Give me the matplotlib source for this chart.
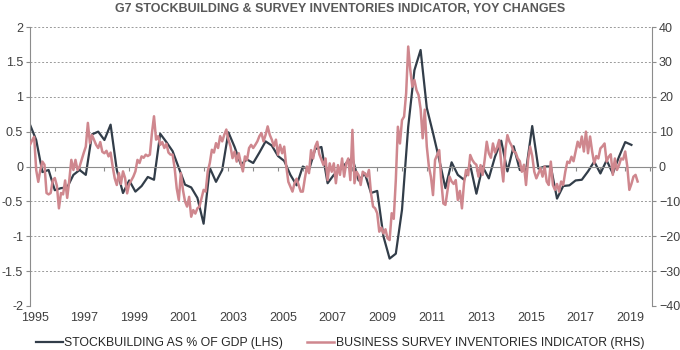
import numpy as np
import matplotlib
matplotlib.use('Agg')
import matplotlib.pyplot as plt

plt.rcParams['font.family'] = ['Liberation Sans Narrow', 'Liberation Sans', 'DejaVu Sans']

title = 'G7 STOCKBUILDING & SURVEY INVENTORIES INDICATOR, YOY CHANGES'
label_lhs = 'STOCKBUILDING AS % OF GDP (LHS)'
label_rhs = 'BUSINESS SURVEY INVENTORIES INDICATOR (RHS)'

# quarterly stockbuilding, % of GDP, 1995Q1 - 2019Q2
stockbuilding = [
    0.60, 0.38, -0.08, -0.05,    # 1995
    -0.34, -0.31, -0.30, -0.12,  # 1996
    -0.05, -0.12, 0.46, 0.50,    # 1997
    0.38, 0.60, -0.05, -0.38,    # 1998
    -0.20, -0.36, -0.28, -0.15,  # 1999
    -0.19, 0.47, 0.35, 0.22,     # 2000
    -0.02, -0.26, -0.30, -0.45,  # 2001
    -0.82, -0.02, -0.22, -0.05,  # 2002
    0.49, 0.28, 0.03, 0.10,      # 2003
    0.05, 0.20, 0.36, 0.30,      # 2004
    0.15, 0.08, -0.12, -0.27,    # 2005
    0.00, -0.05, 0.25, 0.28,     # 2006
    -0.24, -0.12, -0.05, 0.05,   # 2007
    0.12, -0.20, -0.10, -0.38,   # 2008
    -0.35, -1.00, -1.32, -1.25,  # 2009
    -0.62, 0.57, 1.38, 1.67,     # 2010
    0.84, 0.48, 0.10, -0.31,     # 2011
    0.06, -0.12, -0.19, 0.02,    # 2012
    -0.39, 0.00, -0.17, 0.14,    # 2013
    0.37, -0.07, 0.29, -0.05,    # 2014
    -0.06, 0.58, -0.03, 0.00,    # 2015
    0.00, -0.46, -0.28, -0.27,   # 2016
    -0.20, -0.19, -0.07, 0.07,   # 2017
    -0.10, 0.09, -0.10, 0.14,    # 2018
    0.35, 0.31,                  # 2019
]

# monthly survey inventories indicator, Jan 1995 - Jul 2019
survey = [
    6.2, 7.5, 8.5, -1.0, -4.4, -1.0, 1.4, 0.5, -7.6, -8.0, -7.6, -4.0,
    -3.3, -5.5, -12.0, -7.6, -8.0, -4.0, -9.0, -4.0, 1.9, -1.0, 1.9, -1.0,
    0.0, 2.0, 3.9, 5.7, 12.5, 6.7, 9.0, 7.6, 6.2, 5.3, 7.0, 4.2,
    3.8, 4.5, 2.9, 4.0, 0.0, -3.4, -5.3, -1.9, -5.0, -1.4, -3.3, -7.7,
    -5.0, -4.0, -2.9, -1.4, 1.9, 1.0, 2.9, 2.5, 3.4, 3.0, 3.4, 9.6,
    14.4, 7.7, 8.7, 6.2, 7.0, 5.3, 6.5, 4.0, 3.4, 3.4, -0.5, -6.3,
    -9.6, -1.9, -6.7, -10.0, -11.5, -8.7, -14.4, -12.5, -13.5, -12.0, -11.5, -9.1,
    -6.7, -7.2, -1.4, 1.0, 4.8, 4.0, 6.7, 5.3, 8.7, 7.2, 9.1, 10.6,
    7.7, 5.8, 2.4, 4.3, 1.4, 3.8, 1.0, -1.4, 2.9, 1.9, 5.3, 6.2,
    5.3, 6.2, 7.2, 8.7, 9.6, 7.2, 9.1, 11.5, 9.1, 7.7, 5.8, 7.7,
    3.4, 6.2, 3.8, 5.7, 0.0, -4.4, -5.8, -7.2, -4.8, -3.5, -5.3, -7.2,
    -7.2, -3.4, 0.0, -1.9, 4.7, 2.3, 5.7, 7.1, 3.5, 2.0, 0.4, 2.3,
    -3.9, 0.9, -1.5, 0.9, -4.8, 0.4, -2.4, 2.3, -2.9, 0.9, 2.3, -3.9,
    10.5, -4.8, -1.5, -2.5, -5.3, -1.5, -2.0, -2.9, -1.0, -7.7, -11.5, -12.0,
    -13.4, -18.7, -17.5, -19.2, -18.0, -20.6, -21.1, -13.4, -15.0, -3.9, 11.4, 6.6,
    13.3, 14.3, 21.0, 34.4, 27.7, 22.9, 24.8, 21.9, 20.5, 16.5, 8.1, 16.3,
    5.7, 0.0, -3.0, -8.2, 1.9, 3.3, 4.7, -4.3, -10.6, -11.0, -7.0, -2.9,
    -4.3, -5.0, -3.9, -9.6, -7.0, -12.0, -4.8, -1.0, -2.5, 3.3, 1.9, 1.0,
    0.5, -2.9, 0.4, -2.4, 1.9, 7.1, 3.8, 2.5, 6.6, 4.0, 5.5, 7.6,
    0.9, -4.3, 4.7, 9.0, 7.1, 6.0, 4.3, 4.0, 2.3, 1.5, -1.5, 0.5,
    -5.3, 1.9, 5.7, 3.0, -1.5, -3.4, -2.0, -0.5, -2.9, 0.0, -4.3, -5.3,
    1.4, -5.3, -6.7, -5.0, -7.2, -4.3, -5.3, -1.5, 1.4, 1.0, 2.8, 1.5,
    4.3, 7.1, 5.5, 8.6, 4.3, 10.0, 3.8, 8.6, 4.3, 0.9, 3.0, 2.3,
    5.2, 5.8, 6.6, 1.4, 2.8, 3.5, -2.4, 2.3, -1.0, 0.4, 2.3, 2.0,
    4.3, 0.0, -6.7, -5.0, -2.9, -2.4, -4.3,
]

year_labels = [str(y) for y in range(1995, 2020, 2)]

t_q = 1995 + np.arange(len(stockbuilding)) / 4
t_m = 1995 + np.arange(len(survey)) / 12

dark = '#323d49'
pink = '#cf878e'
axis_col = '#8c8c8c'
text_col = '#404040'

fig = plt.figure(figsize=(6.8, 3.5), dpi=100)
ax = fig.add_axes([30 / 680, 44 / 350, 622 / 680, 279 / 350])
ax2 = ax.twinx()

l1, = ax.plot(t_q, stockbuilding, color=dark, lw=1.6, label=label_lhs)
l2, = ax2.plot(t_m, survey, color=pink, lw=1.8, label=label_rhs)

ax.set_xlim(1995, 2020.08)
ax.set_ylim(-2, 2)
ax2.set_ylim(-40, 40)
ax.set_yticks(np.arange(-2, 2.01, 0.5))
ax.set_yticklabels(['-2', '-1.5', '-1', '-0.5', '0', '0.5', '1', '1.5', '2'])
ax2.set_yticks(np.arange(-40, 41, 10))

ax.grid(axis='y', color='#9a9a9a', lw=0.7, linestyle=(0, (2, 2)))
ax.set_axisbelow(True)

# horizontal axis line sits at zero, labels at the bottom
ax.spines['bottom'].set_position(('data', 0))
ax.spines['bottom'].set_color(axis_col)
ax.set_xticks(np.arange(1995, 2021, 1))
ax.tick_params(axis='x', direction='out', length=3, color=axis_col, labelbottom=False)

sec = ax.secondary_xaxis('bottom')
sec.set_xticks(np.arange(1995, 2020, 2) + 0.2, year_labels)
sec.tick_params(length=0, pad=4, labelsize=9, labelcolor=text_col)
sec.spines['bottom'].set_visible(False)

for a in (ax, ax2):
    a.spines['top'].set_visible(False)
    a.spines['left'].set_color(axis_col)
    a.spines['right'].set_color(axis_col)
    a.tick_params(axis='y', direction='out', length=3, color=axis_col,
                  labelsize=9, labelcolor=text_col, pad=2)
ax2.spines['bottom'].set_visible(False)
ax.spines['right'].set_visible(False)
ax2.spines['left'].set_visible(False)

fig.text(0.5, 1 - 9 / 350, title, ha='center', va='center', fontsize=9,
         fontweight='bold', color='#595959', family=['Liberation Sans', 'DejaVu Sans'])

fig.legend([l1, l2], [label_lhs, label_rhs], loc='center', ncol=2,
           bbox_to_anchor=(0.5, 1 - 343 / 350), frameon=False, handlelength=2.2,
           columnspacing=2.0, handletextpad=0.1,
           prop={'family': ['Liberation Sans', 'DejaVu Sans'], 'size': 8.8})
for txt in fig.legends[0].get_texts():
    txt.set_color('#262626')

fig.savefig('out.png', dpi=100)
plt.close()
